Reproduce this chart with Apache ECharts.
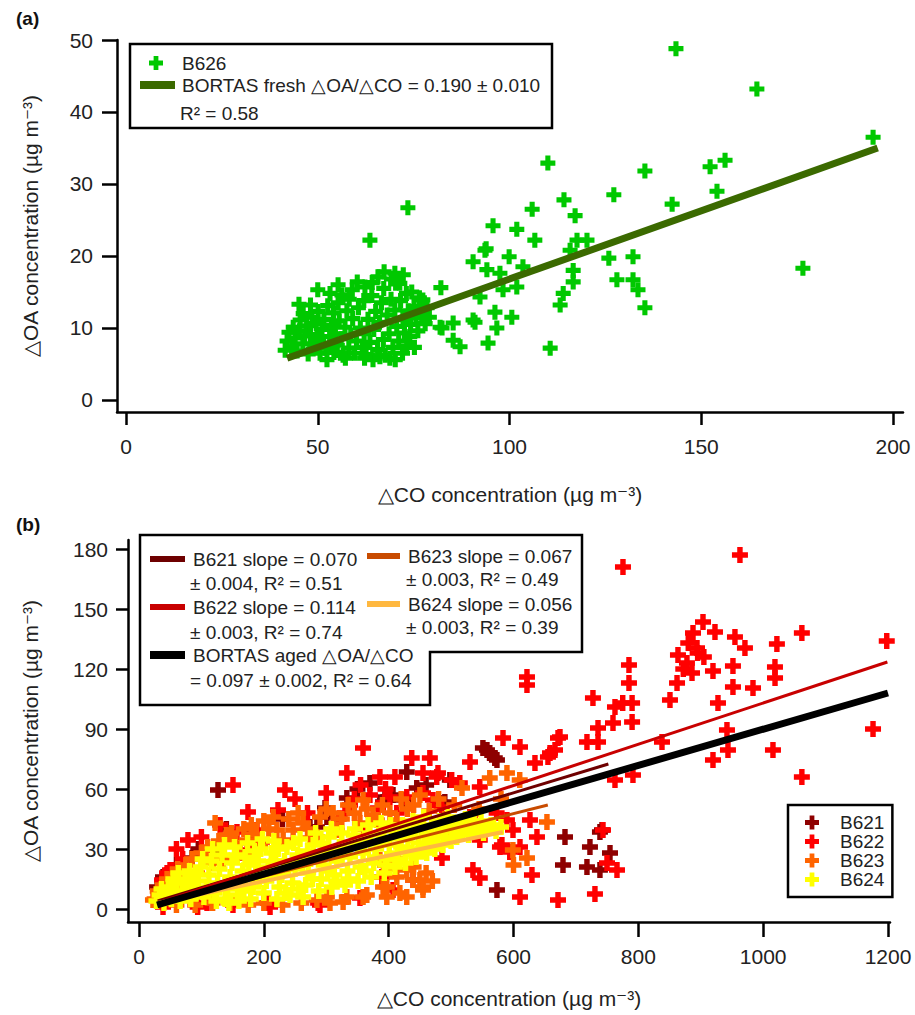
<!DOCTYPE html>
<html><head><meta charset="utf-8">
<script src="https://cdn.jsdelivr.net/npm/echarts@6/dist/echarts.min.js"></script>
<style>html,body{margin:0;padding:0;background:#fff}#c{width:915px;height:1015px}</style>
</head><body><div id="c"></div>
<script>
// ---------- Panel (a) data ----------
const ticksA_x = [0, 50, 100, 150, 200];
const ticksA_y = [0, 10, 20, 30, 40, 50];
const b626 = [
[143.4,48.8],[164.5,43.2],[194.8,36.5],[176.5,18.3],[110,32.9],[135.3,31.8],[152.3,32.4],[156.2,33.3],[154.1,29.0],[142.4,27.2],
[127.2,28.5],[114.2,27.8],[117.1,25.6],[105.9,26.5],[95.7,24.2],[101.9,23.7],[106.6,22.2],[93.9,21.0],[99.9,19.9],[90.5,19.2],
[94.1,18.1],[97.5,17.6],[103.5,18.5],[101.9,15.7],[98.3,15.3],[82.1,15.6],[117.6,22.2],[120.2,22.2],[115.8,20.8],[116.6,18.0],
[116.6,16.4],[114,14.8],[113.2,13.2],[125.9,19.7],[132.2,19.9],[128,16.7],[132.2,16.7],[133.5,15.3],[135.3,12.8],[91,10.8],
[96.2,12.2],[96.7,10.0],[100.6,11.5],[94.4,7.9],[110.6,7.2],[92.3,14.3],[85.3,10.7],[82.4,10],[73.5,26.7],[63.6,22.2],
[93.6,20.8],[87.1,7.4],[90.5,11.1],[85.3,8.3],[81.9,10.1],[77.4,13.9],[74,8.8],
[41.5,6.9],[42,8.2],[42.5,9.4],[43.2,7.4],[43.6,10.1],[44.1,8.6],[44.6,6.8],[45.2,9.6],[45.4,11.1],[46.1,7.8],
[46.6,8.9],[47.1,10.3],[47.5,6.4],[48.1,9.1],[48.5,11.5],[49.2,7.7],[49.6,10.6],[50.2,8.4],[50.6,6.5],[50.1,12.3],
[51.1,9.8],[51.6,11.2],[52.1,7.2],[52.4,5.6],[52.6,13.1],[53.1,8.8],[53.6,10.4],[54.1,12.1],[54.2,6.6],[54.6,9.2],
[55.1,7.6],[55.3,13.5],[55.6,11],[56.1,8.5],[56.3,14.6],[56.6,6.2],[57.1,10.1],[57.6,12.4],[58.1,7.2],[58.6,9],
[59.1,11.3],[59,15.3],[59.6,6.5],[60.1,8.2],[60.6,12.8],[61.1,10],[61.6,7.3],[62.1,9.2],[62,13.8],[62.3,15.7],
[55.3,16],[50,15.3],[62.6,6.3],[63.1,11.2],[63.6,8],[64.1,14.5],[64.4,5.6],[64.6,9.8],[65.1,12.3],[65.6,7],
[65.7,17.1],[66.1,10.8],[66.6,13.5],[67.1,8.4],[67.2,15.5],[67.6,6.2],[68.1,11.8],[68.6,9.2],[68.8,5.8],[69.1,14],
[69.6,7.3],[70.1,12.5],[70.3,16.2],[70.1,17.6],[70.6,10.2],[71.1,8.2],[71.4,16.2],[71.6,13.8],[72.1,6.5],[72.2,11.2],
[72.6,9.3],[73.1,14.8],[73.2,7.5],[73.6,12.4],[74.2,10.5],[74.5,15],[75.1,13],[75.6,11.4],[76.1,9.6],[76.5,14.2],
[77.1,12],[78,10.6],[78.5,12.8],[79.1,11.5],[46.2,12],[48.1,13.2],[53.2,14.8],[58.2,14],[60.3,16.4],[64.2,16.3],
[66.2,6],[69.2,16.8],[62.2,5.8],[57.2,5.8],[70.2,5.6],[75.2,7.3],[45.1,13.3],[67.3,17.8],[72.3,17.4]
];
const freshFitX = [42, 196];
const freshFitY = [5.8, 35.0];

// ---------- Panel (b) data ----------
const ticksB_x = [0, 200, 400, 600, 800, 1000, 1200];
const ticksB_y = [0, 30, 60, 90, 120, 150, 180];
const b621 = [
[557.5,79.5],[551,80.5],[562,78],[570,75.5],[573.5,74.5],[429,68.5],[498,64.5],[445,60.5],[682.5,36],[741.8,39.5],
[738.5,38.5],[722.5,31],[754.6,28],[679.3,22],[717.7,21],[738.5,19.5],[573.5,9.5],[490,53.5],[126.6,59.5],[298,50.5],
[301,46],[333,55.5],[394,56],[391,53.5],[407,57],[423,54.5],[85,25.5],[126.6,29.5],[189,36],[285,41],
[181,39.5],[274,41],[482,53],[38.5,16],[29,11],[60,22],[95,30],[140,40],[230,45],[350,60],[370,63],[460,62]
];
const b622 = [
[962.8,177],[775.4,171],[621.6,116],[621.6,112],[1198,134],[1062,138],[1022,132.5],[903.6,143.5],[887.6,138],[922.8,138.5],
[954.8,136],[970.8,130.5],[894,130.5],[863.5,127],[877.9,123],[886,118],[862,113],[919.6,119],[951.6,121.5],[1018.9,121],
[1019,115.5],[951.6,111],[983.7,110.5],[850.7,104.5],[927.6,103],[785,122],[785,113],[727.3,105.5],[762.6,101],[775,103],
[790,103],[790,93.5],[759.4,93],[735.4,90.5],[735.4,83.5],[717.7,83.5],[671.3,85.5],[658.5,78],[634.4,73],[610.4,81],
[583.2,85.5],[837.9,83.5],[942,89.5],[943.6,79.5],[919.6,74.5],[1015.7,79.5],[1176,90],[1062,66],[762.6,64.5],[791.4,67],
[674.5,86],[666.5,79.5],[655.2,76],[530.3,73.5],[437,75.5],[466,75.5],[386,66],[410,66],[477,66],[501,64.5],
[626.4,44.5],[637.6,36],[578.3,31],[610.4,31],[599.2,39.5],[589.5,44.5],[485.4,25.5],[535,19.5],[546,15.5],[629.6,17],
[610.4,6],[671.3,4.5],[730.5,7.5],[749.8,23],[765.8,19.5],[743.4,39.5],[358.9,80.5],[333,68],[150.6,62],[233.9,59.5],
[174.6,48.5],[222.7,49.5],[78.5,34.5],[157,38.5],[439,14.5],[206.7,3],[150.6,2],[38.5,1],[49.7,19.5],[290,2],
[581.5,32],[594,28.5],[880,133],[895,128],[905,126],[872,120],[189,39.5],[338,52],[383,50.5],[45,18],
[53,19.5],[37,14.5],[94,1],[109,3],[210,1],[287,3],[354,5.5],[402,23],[407,9.5],[389,16],
[178,29.5],[197,33.5],[413,48],[402,56],[429,56],[455,58],[471,54.5],[485,51],[514,63],[546,61],
[573,48],[455,68],[479,68],[493,41],[530,46],[546,34.5],[70,25],[60,30],[100,36],[130,42],
[250,55],[270,48],[300,58],[320,45],[355,62],[330,48],[345,55],[370,57],[395,60],[360,40]
];
const b623 = [
[25,5],[30,9],[38,12],[45,15],[55,17],[62,20],[68,14],[75,22],[85,25],[93,18],
[100,28],[110,31],[114,26],[119,23],[122,43],[128,34],[135,25],[140,37],[148,38],[155,33],
[162,28],[168,40],[173,34.5],[180,42],[188,37],[194,31],[200,44],[208,40],[215,46],[221,39.5],
[231,34.5],[240,45],[247,39.5],[255,48],[263,43],[270,40],[274,35.5],[285,36],[290,46],[300,50],
[311,48],[317,39.5],[325,45],[335,52],[345,48],[354,43],[359,54.5],[365,50],[375,47],[381,44.5],
[390,52],[402,48],[413,44.5],[420,55],[423,39.5],[430,50],[440,52],[450,57],[465,49],[480,55],
[490,45],[505,52],[517.5,60.5],[520,40],[545,50],[562,65.5],[580,55],[589.5,68],[610,64.5],[653.6,43.5],
[599,29.5],[621.6,25.5],[600,22],[386,24.5],[22.4,4.5],[34,6],[54.5,9.5],[66,14.5],[60,2],[90,2],
[118,3],[146,3],[175,2],[200,3],[230,2],[260,3],[285,4.5],[306,3],[327,3.5],[359,6],
[391,11],[413,16],[429,19.5],[455,11],[439,14.5],[418,8],[397,11],[450,14.5],[455,9.5],[429,6],
[397,6],[365,7],[333,6],[301,6],[440,21],[460,18],[470,14],[415,25],[400,20]
];
const b624 = [
[28,4],[33,7],[40,3],[44,8],[47,11],[52,5],[58,9],[61,13],[66,4],[70,7],
[74,15],[78,11],[83,5],[88,9],[91,18],[95,14],[99,21],[104,6],[108,11],[112,17],
[116,24],[121,8],[126,13],[129,20],[133,27],[138,5],[142,10],[146,16],[149,23],[153,31],
[158,7],[162,13],[166,19],[170,26],[174,33],[179,5],[183,11],[187,18],[191,24],[195,30],
[200,8],[204,14],[207,21],[212,28],[216,34],[221,5],[225,11],[229,17],[233,24],[237,31],
[242,7],[246,13],[250,20],[254,27],[258,35],[263,6],[267,12],[271,18],[275,25],[279,32],
[283,38],[288,9],[292,15],[296,22],[300,29],[304,36],[309,11],[313,17],[317,24],[321,31],
[325,38],[330,12],[334,19],[338,26],[342,33],[346,40],[351,14],[355,21],[359,28],[363,35],
[367,42],[372,16],[376,23],[380,30],[384,37],[388,43],[393,18],[397,25],[401,32],[405,39],
[410,21],[414,28],[418,35],[422,42],[427,23],[431,30],[435,37],[439,44],[444,26],[448,33],
[452,40],[456,46],[461,28],[465,35],[469,42],[474,30],[478,37],[482,44],[487,32],[491,39],
[495,46],[500,34],[504,41],[509,36],[513,43],[518,38],[523,45],[528,37],[533,42],[541,39],
[548,44],[556,40],[564,42],[572,39],[580,41],
[36,10],[55,15],[63,18],[81,19],[86,14],[102,25],[118,30],[124,4],[137,32],[144,3],
[156,27],[160,4],[168,9],[176,22],[185,29],[193,15],[198,35],[210,17],[219,24],[223,30],
[235,8],[240,21],[248,33],[256,10],[262,22],[270,29],[278,15],[286,26],[294,33],[302,19],
[308,40],[316,14],[323,27],[336,15],[344,37],[353,31],[362,19],[370,38],[378,26],[386,33],
[395,22],[403,42],[412,25],[420,31],[429,38],[437,28],[446,43],[455,30],[463,38],[472,33],
[480,41],[489,36],[498,43],[507,39],[516,41],[526,40],[537,44],[552,38],[568,41]
];
const fit621 = [[30, 4], [752, 72.5]];
const fit622 = [[30, 3], [1199, 123.5]];
const fit623 = [[30, 3], [655, 52]];
const fit624 = [[30, 3], [583, 38.5]];
const fitAged = [[29, 2], [1200, 108]];

// ---------- Styling ----------
const FONT = "'Liberation Sans', Arial, sans-serif";
const TXT = '#222';
const PLUS = 'path://M3.3,0H6.7V3.3H10V6.7H6.7V10H3.3V6.7H0V3.3H3.3Z';

function axisCommon(vals) {
  return {
    type: 'value',
    splitLine: { show: false },
    axisLine: { show: true, onZero: false, lineStyle: { color: '#000', width: 2.5 } },
    axisTick: { show: true, inside: false, length: 13, lineStyle: { color: '#000', width: 2.5 }, customValues: vals },
    axisLabel: { show: true, fontSize: 21, fontFamily: FONT, color: TXT, customValues: vals, formatter: function (v) { return String(v); } },
    nameLocation: 'middle',
    nameTextStyle: { fontSize: 21, fontFamily: FONT, color: TXT }
  };
}

function plusPoly(cx, cy, s, color) {
  const h = s / 2, a = s * 0.17;
  return { type: 'polygon', z: 100, shape: { points: [[cx-a,cy-h],[cx+a,cy-h],[cx+a,cy-a],[cx+h,cy-a],[cx+h,cy+a],[cx+a,cy+a],[cx+a,cy+h],[cx-a,cy+h],[cx-a,cy+a],[cx-h,cy+a],[cx-h,cy-a],[cx-a,cy-a]] }, style: { fill: color } };
}
function txt(x, y, s, size) {
  return { type: 'text', z: 100, x: x, y: y, style: { text: s, fontSize: size || 19, fontFamily: FONT, fill: TXT, align: 'left', verticalAlign: 'middle', textAlign: 'left', textVerticalAlign: 'middle' } };
}
function bar(x1, x2, y, h, color) {
  return { type: 'rect', z: 100, shape: { x: x1, y: y - h / 2, width: x2 - x1, height: h }, style: { fill: color } };
}

const xA = Object.assign(axisCommon(ticksA_x), { gridIndex: 0, min: -2.35, max: 202.6, name: '△CO concentration (µg m⁻³)', nameGap: 72 });
const yA = Object.assign(axisCommon(ticksA_y), { gridIndex: 0, min: -1.67, max: 50, name: '△OA concentration (µg m⁻³)', nameGap: 76 });
xA.axisLabel.margin = 24; yA.axisLabel.margin = 24; yA.axisTick.length = 15;
const xB = Object.assign(axisCommon(ticksB_x), { gridIndex: 1, min: -17.6, max: 1203.2, name: '△CO concentration (µg m⁻³)', nameGap: 66 });
const yB = Object.assign(axisCommon(ticksB_y), { gridIndex: 1, min: -6.5, max: 184.5, name: '△OA concentration (µg m⁻³)', nameGap: 87 });
xB.axisLabel.margin = 24; yB.axisLabel.margin = 20; yB.axisTick.length = 12; xB.axisTick.length = 15;

const zip = (xs, ys) => xs.map((v, i) => [v, ys[i]]);

const option = {
  animation: false,
  backgroundColor: '#fff',
  title: [
    { text: '(a)', left: 11, top: 4, textStyle: { fontSize: 19, fontWeight: 'bold', fontFamily: FONT, color: '#111' } },
    { text: '(b)', left: 11, top: 510, textStyle: { fontSize: 19, fontWeight: 'bold', fontFamily: FONT, color: '#111' } }
  ],
  grid: [
    { left: 117, top: 40, width: 786, height: 372 },
    { left: 128, top: 540, width: 762, height: 382 }
  ],
  xAxis: [xA, xB],
  yAxis: [yA, yB],
  legend: {
    data: ['B621', 'B622', 'B623', 'B624'],
    orient: 'vertical', left: 788, top: 805,
    selectedMode: false,
    backgroundColor: '#fff',
    borderColor: '#000', borderWidth: 2.5, borderRadius: 0,
    padding: [8, 8, 8, 17],
    itemWidth: 14, itemHeight: 14, itemGap: 0,
    textStyle: { fontSize: 19, fontFamily: FONT, color: TXT, lineHeight: 19, padding: [0, 0, 0, 16] }
  },
  series: [
    { name: 'B626', type: 'scatter', xAxisIndex: 0, yAxisIndex: 0, symbol: PLUS, symbolSize: 15, itemStyle: { color: '#00c800', opacity: 1 }, data: b626, z: 2 },
    { name: 'BORTAS fresh', type: 'line', xAxisIndex: 0, yAxisIndex: 0, symbol: 'none', lineStyle: { color: '#3b6a00', width: 7 }, data: zip(freshFitX, freshFitY), z: 5, silent: true },
    { name: 'B621', type: 'scatter', xAxisIndex: 1, yAxisIndex: 1, symbol: PLUS, symbolSize: 16, itemStyle: { color: '#8e0000', opacity: 1 }, data: b621, z: 2 },
    { name: 'B622', type: 'scatter', xAxisIndex: 1, yAxisIndex: 1, symbol: PLUS, symbolSize: 16, itemStyle: { color: '#ff0000', opacity: 1 }, data: b622, z: 2 },
    { name: 'B623', type: 'scatter', xAxisIndex: 1, yAxisIndex: 1, symbol: PLUS, symbolSize: 16, itemStyle: { color: '#ff6400', opacity: 1 }, data: b623, z: 2 },
    { name: 'B624', type: 'scatter', xAxisIndex: 1, yAxisIndex: 1, symbol: PLUS, symbolSize: 16, itemStyle: { color: '#ffff00', opacity: 1 }, data: b624, z: 2 },
    { name: 'B621 fit', type: 'line', xAxisIndex: 1, yAxisIndex: 1, symbol: 'none', lineStyle: { color: '#6e0000', width: 3 }, data: fit621, z: 5, silent: true },
    { name: 'B622 fit', type: 'line', xAxisIndex: 1, yAxisIndex: 1, symbol: 'none', lineStyle: { color: '#c80000', width: 3 }, data: fit622, z: 5, silent: true },
    { name: 'B623 fit', type: 'line', xAxisIndex: 1, yAxisIndex: 1, symbol: 'none', lineStyle: { color: '#c84b00', width: 3 }, data: fit623, z: 5, silent: true },
    { name: 'B624 fit', type: 'line', xAxisIndex: 1, yAxisIndex: 1, symbol: 'none', lineStyle: { color: '#ffb840', width: 4 }, data: fit624, z: 5, silent: true },
    { name: 'BORTAS aged', type: 'line', xAxisIndex: 1, yAxisIndex: 1, symbol: 'none', lineStyle: { color: '#000', width: 7 }, data: fitAged, z: 6, silent: true }
  ],
  graphic: [
    // legend (a)
    { type: 'rect', z: 99, shape: { x: 130, y: 44, width: 422, height: 84 }, style: { fill: '#fff', stroke: '#000', lineWidth: 2.5 } },
    plusPoly(156, 63, 14, '#00c800'),
    txt(182, 63, 'B626'),
    bar(140, 175, 85, 8, '#3b6a00'),
    txt(182, 85, 'BORTAS fresh △OA/△CO = 0.190 ± 0.010'),
    txt(180, 113, 'R² = 0.58'),
    // legend (b)
    { type: 'polygon', z: 99, shape: { points: [[140,535],[582,535],[582,652],[430,652],[430,705],[140,705]] }, style: { fill: '#fff', stroke: '#000', lineWidth: 2.5 } },
    bar(150, 185, 559, 6, '#6e0000'),
    txt(193, 559, 'B621 slope = 0.070'),
    txt(190, 583, '± 0.004, R² = 0.51'),
    bar(150, 185, 607, 6, '#c80000'),
    txt(193, 607, 'B622 slope = 0.114'),
    txt(190, 632, '± 0.003, R² = 0.74'),
    bar(150, 185, 655, 8, '#000'),
    txt(193, 655, 'BORTAS aged △OA/△CO'),
    txt(190, 680, '= 0.097 ± 0.002, R² = 0.64'),
    bar(367, 400, 556, 6, '#c84b00'),
    txt(408, 556, 'B623 slope = 0.067'),
    txt(406, 579, '± 0.003, R² = 0.49'),
    bar(367, 400, 604, 6, '#ffb840'),
    txt(408, 604, 'B624 slope = 0.056'),
    txt(406, 627, '± 0.003, R² = 0.39')
  ]
};
const chart = echarts.init(document.getElementById('c'), null, { renderer: 'svg' });
chart.setOption(option);
</script>
</body></html>
